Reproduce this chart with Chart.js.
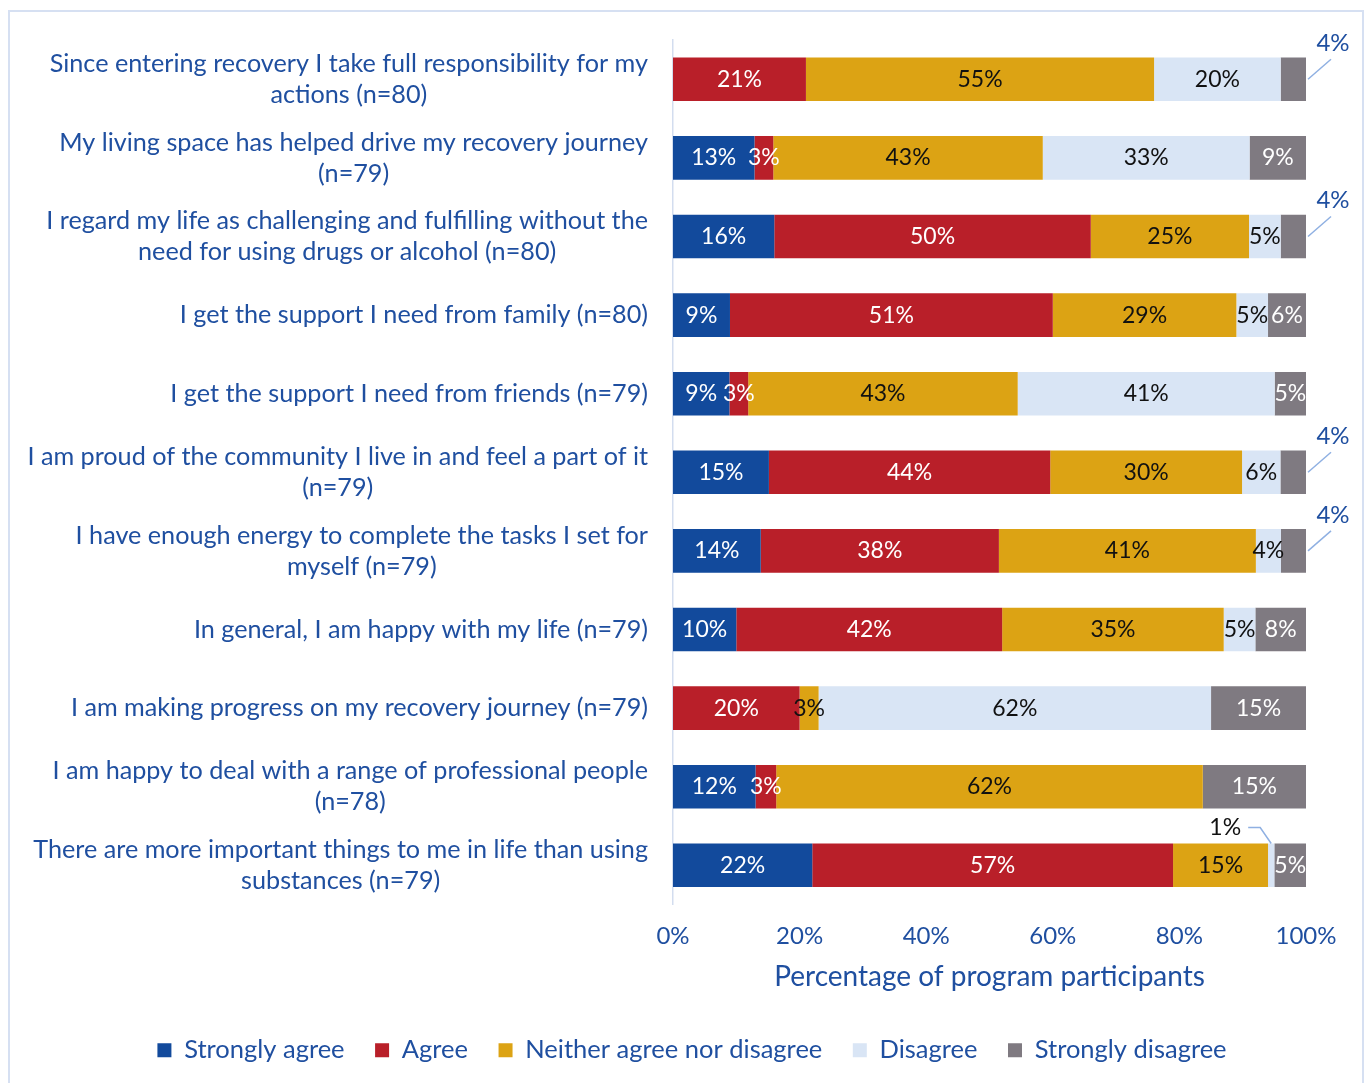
<!DOCTYPE html>
<html>
<head>
<meta charset="utf-8">
<script src="https://cdn.jsdelivr.net/npm/chart.js@4.4.1/dist/chart.umd.min.js"></script>
<style>
  html, body { margin: 0; padding: 0; background: #ffffff; }
  #wrap { position: relative; width: 1365px; height: 1083px; overflow: hidden; }
  #frame { position: absolute; left: 8px; top: 10px; width: 1356px; height: 1100px;
           border: 2px solid #d6e0f2; box-sizing: border-box; pointer-events: none; }
  canvas { position: absolute; left: 0; top: 0; }
</style>
</head>
<body>
<div id="wrap">
  <canvas id="chart" width="1365" height="1083"></canvas>
  <div id="frame"></div>
</div>
<script>
// Survey statements (wrapped into display lines)
const categories = [
  ['Since entering recovery I take full responsibility for my', 'actions (n=80)'],
  ['My living space has helped drive my recovery journey', '(n=79)'],
  ['I regard my life as challenging and fulfilling without the', 'need for using drugs or alcohol (n=80)'],
  ['I get the support I need from family (n=80)'],
  ['I get the support I need from friends (n=79)'],
  ['I am proud of the community I live in and feel a part of it', '(n=79)'],
  ['I have enough energy to complete the tasks I set for', 'myself (n=79)'],
  ['In general, I am happy with my life (n=79)'],
  ['I am making progress on my recovery journey (n=79)'],
  ['I am happy to deal with a range of professional people', '(n=78)'],
  ['There are more important things to me in life than using', 'substances (n=79)']
];

// Percent of respondents per response
const stronglyAgree    = [0, 13, 16, 9, 9, 15, 14, 10, 0, 12, 22];
const agree            = [21, 3, 50, 51, 3, 44, 38, 42, 20, 3, 57];
const neither          = [55, 43, 25, 29, 43, 30, 41, 35, 3, 62, 15];
const disagree         = [20, 33, 5, 5, 41, 6, 4, 5, 62, 0, 1];
const stronglyDisagree = [4, 9, 4, 6, 5, 4, 4, 8, 15, 15, 5];

const xTickValues = [0, 20, 40, 60, 80, 100];

const BLUE_TEXT = '#1f4fa0';
const FONT = 'Lato, "Noto Sans", sans-serif';

const series = [
  { label: 'Strongly agree', values: stronglyAgree, color: '#124a9c', text: '#ffffff' },
  { label: 'Agree', values: agree, color: '#b91f29', text: '#ffffff' },
  { label: 'Neither agree nor disagree', values: neither, color: '#dca314', text: '#111111' },
  { label: 'Disagree', values: disagree, color: '#d9e5f5', text: '#111111', callout: 'left', calloutMax: 1 },
  { label: 'Strongly disagree', values: stronglyDisagree, color: '#7f7a81', text: '#ffffff', callout: 'right', calloutMax: 4 }
];

// Each bar is shown as a 100% stack of its row total
const rowTotals = categories.map((_, i) => series.reduce((s, d) => s + d.values[i], 0));

const datasets = series.map(s => ({
  label: s.label,
  data: s.values.map((v, i) => v / rowTotals[i] * 100),
  raw: s.values,
  backgroundColor: s.color,
  textColor: s.text,
  callout: s.callout,
  calloutMax: s.calloutMax,
  borderWidth: 0,
  categoryPercentage: 1,
  barPercentage: 0.555
}));

// Percentage labels on bar segments, with leader lines for slim ones
const segmentLabels = {
  id: 'segmentLabels',
  afterDatasetsDraw(chart) {
    const ctx = chart.ctx;
    const labelFont = '23px ' + FONT;
    ctx.save();
    ctx.font = labelFont;
    ctx.textAlign = 'center';
    ctx.textBaseline = 'middle';
    chart.data.datasets.forEach((ds, di) => {
      const meta = chart.getDatasetMeta(di);
      meta.data.forEach((bar, i) => {
        const v = ds.raw[i];
        if (!v) return;
        const p = bar.getProps(['x', 'y', 'base', 'height'], true);
        const left = Math.min(p.x, p.base), right = Math.max(p.x, p.base);
        const cx = (left + right) / 2;
        const txt = v + '%';
        if (ds.callout === 'right' && v <= ds.calloutMax) {
          ctx.strokeStyle = '#8fb0e2';
          ctx.lineWidth = 1.5;
          ctx.beginPath();
          ctx.moveTo(right + 2, p.y);
          ctx.lineTo(right + 25, p.y - 20);
          ctx.stroke();
          ctx.fillStyle = BLUE_TEXT;
          ctx.font = '24px ' + FONT;
          ctx.fillText(txt, right + 27, p.y - 36);
          ctx.font = labelFont;
        } else if (ds.callout === 'left' && v <= ds.calloutMax) {
          const ty = p.y - p.height / 2 - 16;
          ctx.strokeStyle = '#8fb0e2';
          ctx.lineWidth = 1.5;
          ctx.beginPath();
          ctx.moveTo(cx - 23, ty);
          ctx.lineTo(cx - 11, ty);
          ctx.lineTo(cx, p.y - p.height / 2);
          ctx.stroke();
          ctx.fillStyle = '#111111';
          ctx.fillText(txt, cx - 46, ty);
        } else {
          ctx.fillStyle = ds.textColor;
          ctx.fillText(txt, cx, p.y);
        }
      });
    });
    ctx.restore();
  }
};

// Category labels: right-aligned blocks with centred lines
const categoryLabels = {
  id: 'categoryLabels',
  afterDraw(chart) {
    const ctx = chart.ctx;
    const yScale = chart.scales.y;
    const lh = 31;
    ctx.save();
    ctx.font = '25.2px ' + FONT;
    ctx.fillStyle = BLUE_TEXT;
    ctx.textAlign = 'center';
    ctx.textBaseline = 'middle';
    const rightEdge = yScale.right - 25;
    chart.data.labels.forEach((lines, i) => {
      const cy = yScale.getPixelForTick(i);
      const w = Math.max(...lines.map(l => ctx.measureText(l).width));
      const cx = rightEdge - w / 2;
      const y0 = cy - (lines.length - 1) * lh / 2;
      lines.forEach((l, k) => ctx.fillText(l, cx, y0 + k * lh));
    });
    ctx.restore();
  }
};

// Centre the legend row under the plot area rather than the padded canvas
const legendOffset = {
  id: 'legendOffset',
  afterLayout(chart) {
    const shift = 39;
    chart.legend.left += shift;
    chart.legend.right += shift;
  }
};

new Chart(document.getElementById('chart'), {
  type: 'bar',
  data: { labels: categories, datasets },
  options: {
    indexAxis: 'y',
    responsive: false,
    animation: false,
    layout: { padding: { top: 40, right: 59, left: 0, bottom: 10 } },
    scales: {
      x: {
        stacked: true,
        min: 0,
        max: 100,
        afterBuildTicks(scale) { scale.ticks = xTickValues.map(v => ({ value: v })); },
        grid: { display: false, drawTicks: false },
        border: { display: false },
        ticks: {
          color: BLUE_TEXT,
          font: { family: FONT, size: 24 },
          padding: 17,
          callback: v => v + '%'
        },
        title: {
          display: true,
          text: 'Percentage of program participants',
          color: BLUE_TEXT,
          font: { family: FONT, size: 28 },
          padding: { top: -7, bottom: 13 }
        }
      },
      y: {
        stacked: true,
        grid: { display: false, drawTicks: false },
        border: { display: true, color: '#d3ddef', width: 1.5 },
        ticks: { display: false },
        afterFit(scale) { scale.width = 673; }
      }
    },
    plugins: {
      legend: {
        position: 'bottom',
        labels: {
          color: BLUE_TEXT,
          font: { family: FONT, size: 25.5 },
          boxWidth: 14,
          boxHeight: 14,
          padding: 30.5
        }
      },
      tooltip: { enabled: false }
    }
  },
  plugins: [segmentLabels, categoryLabels, legendOffset]
});
</script>
</body>
</html>
